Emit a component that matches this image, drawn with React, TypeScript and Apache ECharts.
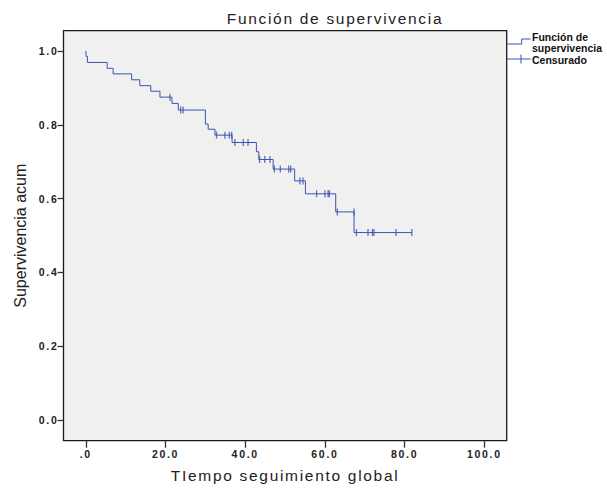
import React, { useEffect, useRef } from 'react';
import * as echarts from 'echarts';

// Kaplan–Meier estimate: survival level reached at each event time
const eventTimes = [0, 0.1, 0.4, 5.35, 6.85, 11.5, 13.55, 16.3, 18.6, 21.6, 23.2, 30.0, 30.7, 32.4, 36.7, 42.8, 43.4, 47.0, 52.4, 55.1, 62.7, 67.3, 81.8];
const survival = [1.0, 0.985, 0.969, 0.953, 0.938, 0.922, 0.906, 0.891, 0.875, 0.858, 0.84, 0.802, 0.788, 0.772, 0.752, 0.727, 0.706, 0.68, 0.648, 0.613, 0.564, 0.508, 0.508];

// Censored observations (time, survival level at which they sit)
const censorTimes = [21.1, 23.8, 24.4, 32.8, 34.9, 36.0, 36.6, 37.4, 39.5, 40.7, 43.6, 44.9, 46.2, 47.3, 48.8, 50.9, 51.4, 53.7, 54.5, 57.9, 60.0, 60.8, 61.1, 63.1, 67.3, 67.9, 70.8, 71.9, 72.3, 77.8, 81.8];
const censorSurvival = [0.875, 0.84, 0.84, 0.772, 0.772, 0.772, 0.772, 0.752, 0.752, 0.752, 0.706, 0.706, 0.706, 0.68, 0.68, 0.68, 0.68, 0.648, 0.648, 0.613, 0.613, 0.613, 0.613, 0.564, 0.564, 0.508, 0.508, 0.508, 0.508, 0.508, 0.508];

const xTicks = [0, 20, 40, 60, 80, 100];
const yTicks = [0, 0.2, 0.4, 0.6, 0.8, 1.0];

const BLUE = '#3a53b0';
const SPACED = 'Helvetica, "Liberation Sans", Arial, sans-serif';
const PLAIN = '"Liberation Sans", Arial, sans-serif';

export default function App() {
  const ref = useRef<HTMLDivElement>(null);

  useEffect(() => {
    const chart = echarts.init(ref.current!, null, { renderer: 'svg' });
    chart.setOption({
      animation: false,
      backgroundColor: '#ffffff',
      grid: {
        show: true,
        left: 63.5,
        top: 30.7,
        right: 100.3,
        bottom: 48.3,
        backgroundColor: '#f0f0f0',
        borderColor: '#1a1a1a',
        borderWidth: 1.3,
      },
      xAxis: {
        type: 'value',
        min: -5.6,
        max: 105.6,
        name: 'TIempo seguimiento global',
        nameLocation: 'middle',
        nameGap: 27,
        nameTextStyle: { fontFamily: SPACED, fontSize: 15.5, color: '#222' },
        splitLine: { show: false },
        axisLine: { show: false, onZero: false },
        axisTick: {
          show: true,
          customValues: xTicks,
          length: 7,
          lineStyle: { color: '#333', width: 1.3 },
        },
        axisLabel: {
          customValues: xTicks,
          formatter: (v: number) => (v === 0 ? '.0' : v.toFixed(1)),
          fontFamily: SPACED,
          fontWeight: 'bold',
          fontSize: 10.5,
          color: '#222',
          margin: 8,
        },
      },
      yAxis: {
        type: 'value',
        min: -0.056,
        max: 1.055,
        name: 'Supervivencia acum',
        nameLocation: 'middle',
        nameGap: 35,
        nameTextStyle: { fontFamily: PLAIN, fontSize: 16, color: '#222' },
        splitLine: { show: false },
        axisLine: { show: false, onZero: false },
        axisTick: {
          show: true,
          customValues: yTicks,
          length: 6,
          lineStyle: { color: '#333', width: 1.3 },
        },
        axisLabel: {
          customValues: yTicks,
          formatter: (v: number) => v.toFixed(1),
          fontFamily: SPACED,
          fontWeight: 'bold',
          fontSize: 10.5,
          color: '#222',
          margin: 5,
        },
      },
      series: [
        {
          type: 'line',
          step: 'end',
          data: eventTimes.map((t, i) => [t, survival[i]]),
          symbol: 'none',
          showSymbol: false,
          lineStyle: { color: BLUE, width: 1 },
          silent: true,
          z: 2,
        },
        {
          type: 'scatter',
          data: censorTimes.map((t, i) => [t, censorSurvival[i]]),
          symbol: 'rect',
          symbolSize: [1.3, 7],
          itemStyle: { color: BLUE },
          silent: true,
          z: 3,
        },
      ],
      graphic: [
        {
          type: 'text',
          x: 335,
          y: 18,
          style: {
            text: 'Función de supervivencia',
            fontFamily: SPACED,
            fontSize: 15.5,
            fill: '#222',
            align: 'center',
            verticalAlign: 'middle',
            textAlign: 'center',
            textVerticalAlign: 'middle',
          },
        },
        // legend: survival step icon
        {
          type: 'polyline',
          shape: { points: [[507, 44], [521.7, 44], [521.7, 39], [530.7, 39]] },
          style: { stroke: BLUE, lineWidth: 1, fill: 'none' },
        },
        // legend: censored "+" icon
        {
          type: 'line',
          shape: { x1: 507, y1: 59, x2: 530.7, y2: 59 },
          style: { stroke: BLUE, lineWidth: 1 },
        },
        {
          type: 'line',
          shape: { x1: 521, y1: 54.5, x2: 521, y2: 63.5 },
          style: { stroke: BLUE, lineWidth: 1 },
        },
        ...[
          ['Función de', 36.5],
          ['supervivencia', 47.5],
          ['Censurado', 60],
        ].map(([label, y]) => ({
          type: 'text',
          x: 532,
          y: y as number,
          style: {
            text: label as string,
            fontFamily: PLAIN,
            fontWeight: 'bold',
            fontSize: 10.5,
            lineHeight: 11,
            fill: '#111',
            align: 'left',
            verticalAlign: 'middle',
            textAlign: 'left',
            textVerticalAlign: 'middle',
          },
        })),
      ],
    });
    return () => chart.dispose();
  }, []);

  return (
    <>
      <style>{`#km-chart text[style*="Helvetica"]{letter-spacing:1.7px}`}</style>
      <div
        id="km-chart"
        ref={ref}
        style={{ position: 'fixed', left: 0, top: 0, width: 607, height: 489, background: '#fff' }}
      />
    </>
  );
}
